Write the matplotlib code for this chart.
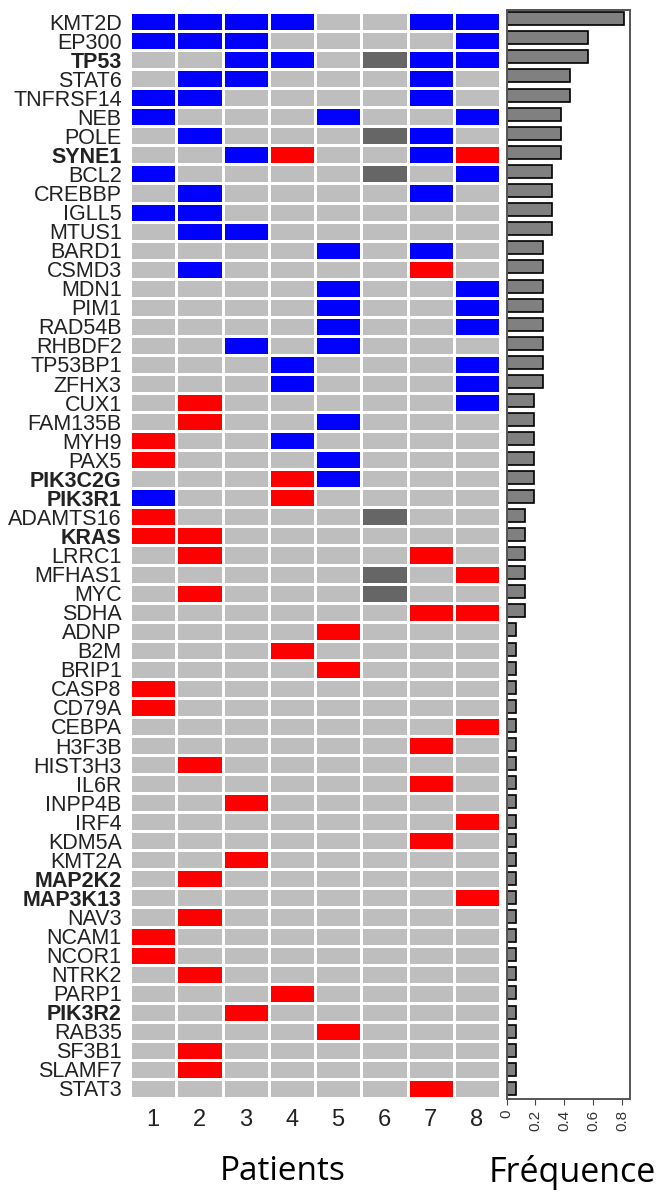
import numpy as np
import matplotlib
matplotlib.use("Agg")
import matplotlib.pyplot as plt
from matplotlib.colors import ListedColormap

genes = ["KMT2D", "EP300", "TP53", "STAT6", "TNFRSF14", "NEB", "POLE", "SYNE1",
         "BCL2", "CREBBP", "IGLL5", "MTUS1", "BARD1", "CSMD3", "MDN1", "PIM1",
         "RAD54B", "RHBDF2", "TP53BP1", "ZFHX3", "CUX1", "FAM135B", "MYH9", "PAX5",
         "PIK3C2G", "PIK3R1", "ADAMTS16", "KRAS", "LRRC1", "MFHAS1", "MYC", "SDHA",
         "ADNP", "B2M", "BRIP1", "CASP8", "CD79A", "CEBPA", "H3F3B", "HIST3H3",
         "IL6R", "INPP4B", "IRF4", "KDM5A", "KMT2A", "MAP2K2", "MAP3K13", "NAV3",
         "NCAM1", "NCOR1", "NTRK2", "PARP1", "PIK3R2", "RAB35", "SF3B1", "SLAMF7",
         "STAT3"]
bold_genes = ["TP53", "SYNE1", "PIK3C2G", "PIK3R1", "KRAS", "MAP2K2", "MAP3K13", "PIK3R2"]

# one string per gene, one character per patient: B blue, R red, D dark grey, . none
status = ["BBBB..BB", "BBB....B", "..BB.DBB", ".BB...B.", "BB....B.", "B...B..B",
          ".B...DB.", "..BR..BR", "B....D.B", ".B....B.", "BB......", ".BB.....",
          "....B.B.", ".B....R.", "....B..B", "....B..B", "....B..B", "..B.B...",
          "...B...B", "...B...B", ".R.....B", ".R..B...", "R..B....", "R...B...",
          "...RB...", "B..R....", "R....D..", "RR......", ".R....R.", ".....D.R",
          ".R...D..", "......RR", "....R...", "...R....", "....R...", "R.......",
          "R.......", ".......R", "......R.", ".R......", "......R.", "..R.....",
          ".......R", "......R.", "..R.....", ".R......", ".......R", ".R......",
          "R.......", "R.......", ".R......", "...R....", "..R.....", "....R...",
          ".R......", ".R......", "......R."]

frequence = [0.8125, 0.5625, 0.5625, 0.4375, 0.4375, 0.375, 0.375, 0.375,
             0.3125, 0.3125, 0.3125, 0.3125, 0.25, 0.25, 0.25, 0.25,
             0.25, 0.25, 0.25, 0.25, 0.1875, 0.1875, 0.1875, 0.1875,
             0.1875, 0.1875, 0.125, 0.125, 0.125, 0.125, 0.125, 0.125] + [0.0625] * 25

patients = ["1", "2", "3", "4", "5", "6", "7", "8"]

codes = {".": 0, "B": 1, "R": 2, "D": 3}
mat = np.array([[codes[c] for c in s] for s in status])
cmap = ListedColormap(["#bebebe", "#0000ff", "#ff0000", "#666666"])

plt.rcParams["font.family"] = ["Liberation Sans", "DejaVu Sans"]

fig = plt.figure(figsize=(6.65, 11.93), dpi=100)
W, H = 665, 1193

ax = fig.add_axes([130 / W, 1 - 1098 / H, 370 / W, 1086 / H])
ax.pcolormesh(mat, cmap=cmap, vmin=-0.5, vmax=3.5, edgecolors="white", linewidth=2)
ax.set_xlim(0, len(patients))
ax.set_ylim(len(genes), 0)
ax.set_yticks(np.arange(len(genes)) + 0.5)
ax.set_yticklabels(genes, fontsize=15.5, color="#222222")
for lab in ax.get_yticklabels():
    if lab.get_text() in bold_genes:
        lab.set_fontweight("bold")
ax.set_xticks(np.arange(len(patients)) + 0.5)
ax.set_xticklabels(patients, fontsize=17, color="#222222")
ax.tick_params(length=0, pad=6)
ax.tick_params(axis="x", pad=8)
for s in ax.spines.values():
    s.set_visible(False)

ax2 = fig.add_axes([506.5 / W, 1 - 1099 / H, 123.5 / W, 1089 / H])
ax2.barh(np.arange(len(genes)), frequence, height=0.68, color="#808080",
         edgecolor="black", linewidth=1.2, align="center")
ax2.set_ylim(len(genes) - 0.45, -0.45)
ax2.set_xlim(0, 0.855)
ax2.set_yticks([])
ax2.set_xticks([0, 0.2, 0.4, 0.6, 0.8])
ax2.set_xticklabels(["0", "0.2", "0.4", "0.6", "0.8"], rotation=90, fontsize=11, color="#333333")
ax2.tick_params(axis="x", length=4, color="#444444")
for s in ax2.spines.values():
    s.set_color("#555555")
    s.set_linewidth(1.4)

fig.text(283 / W, 1 - 1172 / H, "Patients", fontsize=24, family="Open Sans",
         ha="center", va="center")
fig.text(572 / W, 1 - 1172 / H, "Fréquence", fontsize=24.5, family="Open Sans",
         ha="center", va="center")

fig.savefig("out.png", dpi=100)
